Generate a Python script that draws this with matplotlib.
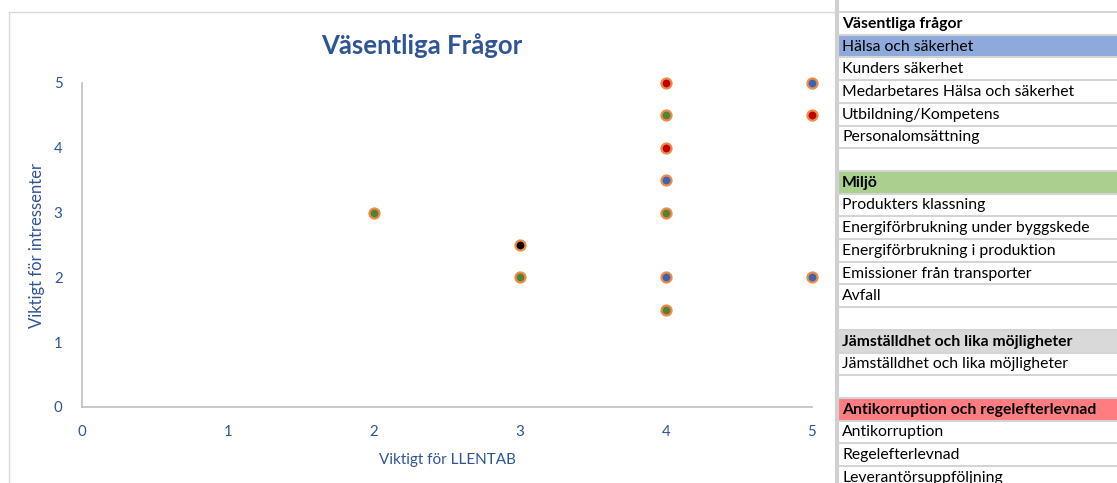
import matplotlib
matplotlib.use("Agg")
import matplotlib.pyplot as plt
from matplotlib.patches import Rectangle

plt.rcParams['font.family'] = ['Lato', 'DejaVu Sans']

# scatter series (x = Viktigt för LLENTAB, y = Viktigt för intressenter)
halsa_x = [4, 4, 5, 5]
halsa_y = [3.5, 2, 5, 2]
miljo_x = [2, 3, 4, 4, 4]
miljo_y = [3, 2, 4.5, 3, 1.5]
jamst_x = [3]
jamst_y = [2.5]
anti_x = [4, 4, 5]
anti_y = [5, 4, 4.5]

# side table: (text, fill colour, bold)
table_rows = [
    ("Väsentliga frågor", None, True),
    ("Hälsa och säkerhet", "#8EA9DB", False),
    ("Kunders säkerhet", None, False),
    ("Medarbetares Hälsa och säkerhet", None, False),
    ("Utbildning/Kompetens", None, False),
    ("Personalomsättning", None, False),
    ("", None, False),
    ("Miljö", "#A9D08E", True),
    ("Produkters klassning", None, False),
    ("Energiförbrukning under byggskede", None, False),
    ("Energiförbrukning i produktion", None, False),
    ("Emissioner från transporter", None, False),
    ("Avfall", None, False),
    ("", None, False),
    ("Jämställdhet och lika möjligheter", "#D9D9D9", True),
    ("Jämställdhet och lika möjligheter", None, False),
    ("", None, False),
    ("Antikorruption och regelefterlevnad", "#FF7C80", True),
    ("Antikorruption", None, False),
    ("Regelefterlevnad", None, False),
    ("Leverantörsuppföljning", None, False),
]

W, H = 1117, 483
fig = plt.figure(figsize=(W / 100, H / 100), dpi=100)

# overlay in pixel coordinates for frame and table
ov = fig.add_axes([0, 0, 1, 1])
ov.set_xlim(0, W)
ov.set_ylim(H, 0)
ov.axis('off')
ov.set_zorder(0)

# chart frame
ov.plot([9, 834], [12, 12], color='#D9D9D9', lw=1)
ov.plot([9, 9], [12, H], color='#D9D9D9', lw=1)
ov.plot([836.5, 836.5], [0, H], color='#D0D0D0', lw=3)

row_h = 22.7
top = 12
for i, (txt, fill, bold) in enumerate(table_rows):
    y0 = top + i * row_h
    if fill:
        ov.add_patch(Rectangle((839, y0 + 1), W - 839, row_h - 2, color=fill, lw=0))
    ov.plot([839, W], [y0 + row_h, y0 + row_h], color='#D4D4D4', lw=1.5)
    ov.text(842, y0 + row_h / 2 + 0.5, txt, fontsize=11.3, va='center', ha='left',
            color='black', fontweight='bold' if bold else 'normal')
ov.plot([839, W], [top, top], color='#D4D4D4', lw=1.5)

# scatter chart
ax = fig.add_axes([82 / W, 76 / H, 730 / W, 324 / H])
ax.set_zorder(1)
ax.patch.set_alpha(0)
edge = '#F08A45'
kw = dict(s=52, edgecolors=edge, linewidths=1.6, zorder=3, clip_on=False)
ax.scatter(halsa_x, halsa_y, color='#3A65B0', **kw)
ax.scatter(miljo_x, miljo_y, color='#548235', **kw)
ax.scatter(jamst_x, jamst_y, color='black', **kw)
ax.scatter(anti_x, anti_y, color='#C00000', **kw)

ax.set_xlim(0, 5)
ax.set_ylim(0, 5)
ax.set_xticks(range(6))
ax.set_yticks(range(6))
for s in ['top', 'right']:
    ax.spines[s].set_visible(False)
for s in ['left', 'bottom']:
    ax.spines[s].set_color('#BFBFBF')
    ax.spines[s].set_linewidth(1.2)
ax.tick_params(length=0, colors='#2F5597', labelsize=10.8)
ax.tick_params(axis='x', pad=13)
ax.tick_params(axis='y', pad=14)
ax.set_xlabel('Viktigt för LLENTAB', color='#2F5597', fontsize=11, labelpad=10)
ax.set_ylabel('Viktigt för intressenter', color='#2F5597', fontsize=12)
ax.yaxis.set_label_coords(-0.051, 0.5)

ov.text(422, 46, 'Väsentliga Frågor', fontsize=18.5, fontweight='bold',
        color='#2F5597', ha='center', va='center')

fig.savefig('out.png', dpi=100)
